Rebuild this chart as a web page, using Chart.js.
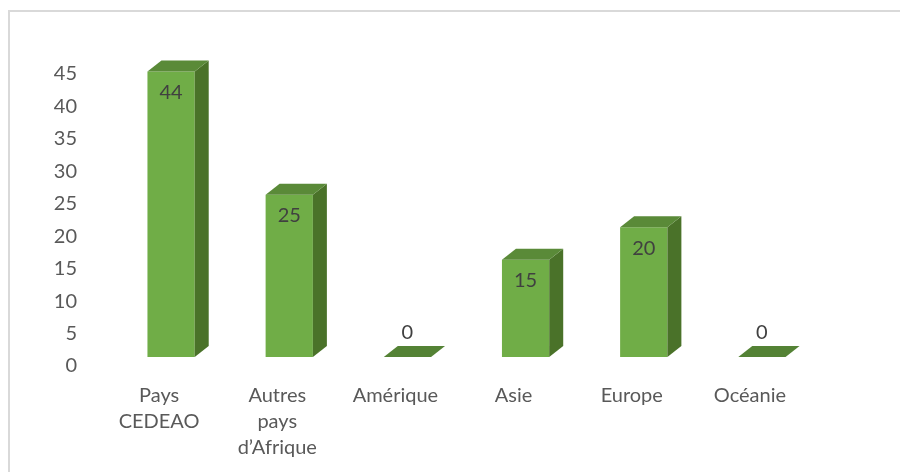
<!DOCTYPE html>
<html>
<head>
<meta charset="utf-8">
<script src="https://cdn.jsdelivr.net/npm/chart.js@4"></script>
<style>
  html, body { margin: 0; padding: 0; background: #fff; overflow: hidden; }
  .frame { position: absolute; left: 8px; top: 10px; width: 960px; height: 520px;
           border-left: 2px solid #d9d9d9; border-top: 2px solid #d9d9d9; }
  #chart { position: absolute; left: 0; top: 0; }
</style>
</head>
<body>
<div class="frame"></div>
<canvas id="chart" width="900" height="472"></canvas>
<script>
// categories and values
const categories = [['Pays', 'CEDEAO'], ['Autres', 'pays', 'd\u2019Afrique'], 'Am\u00e9rique', 'Asie', 'Europe', 'Oc\u00e9anie'];
const values = [44, 25, 0, 15, 20, 0];
const yTicks = [0, 5, 10, 15, 20, 25, 30, 35, 40, 45];

const FRONT = '#70ad47';
const SIDE  = '#4a7229';
const TOP   = '#5a8a38';
const DEPTH = { dx: 14, dy: -11 };   // 3d look
const SHIFT = 12;                    // bars sit a little right of the labels

const bars3d = {
  id: 'bars3d',
  beforeDatasetsDraw(chart) {
    chart.ctx.save();
    chart.ctx.translate(SHIFT, 0);
  },
  afterDatasetsDraw(chart) {
    const ctx = chart.ctx;
    const meta = chart.getDatasetMeta(0);
    meta.data.forEach((bar, i) => {
      const { x, y, base, width } = bar.getProps(['x', 'y', 'base', 'width'], true);
      const l = x - width / 2, r = x + width / 2;
      // side face
      if (base - y > 0.5) {
        ctx.fillStyle = SIDE;
        ctx.beginPath();
        ctx.moveTo(r, y); ctx.lineTo(r + DEPTH.dx, y + DEPTH.dy);
        ctx.lineTo(r + DEPTH.dx, base + DEPTH.dy); ctx.lineTo(r, base);
        ctx.closePath(); ctx.fill();
      }
      // top face
      ctx.fillStyle = base - y > 0.5 ? TOP : '#548235';
      ctx.beginPath();
      ctx.moveTo(l, y); ctx.lineTo(r, y);
      ctx.lineTo(r + DEPTH.dx, y + DEPTH.dy); ctx.lineTo(l + DEPTH.dx, y + DEPTH.dy);
      ctx.closePath(); ctx.fill();

      // value labels
      ctx.fillStyle = '#404040';
      ctx.font = '20px Lato';
      ctx.textAlign = 'center';
      ctx.textBaseline = 'middle';
      const v = values[i];
      const ly = base - y > 0.5 ? y + 21 : y - 24;
      ctx.fillText(String(v), x, ly);
    });
    ctx.restore();
  },
};

new Chart(document.getElementById('chart'), {
  type: 'bar',
  data: {
    labels: categories,
    datasets: [{
      data: values,
      yAxisID: 'y2',
      backgroundColor: FRONT,
      borderWidth: 0,
      categoryPercentage: 1,
      barPercentage: 0.4,
      clip: false,
    }],
  },
  options: {
    responsive: false,
    animation: false,
    events: [],
    layout: { padding: { top: 74, right: 91, left: 0, bottom: 0 } },
    plugins: { legend: { display: false }, tooltip: { enabled: false } },
    scales: {
      x: {
        grid: { display: false, drawTicks: false },
        border: { display: false },
        ticks: { color: '#595959', font: { family: 'Lato', size: 20, lineHeight: 1.3 }, padding: 17, maxRotation: 0, autoSkip: false },
        afterFit(s) { s.height = 106; },
      },
      y: {
        min: 0, max: 45,
        grid: { display: false, drawTicks: false },
        border: { display: false },
        afterBuildTicks(s) { s.ticks = yTicks.map((v) => ({ value: v })); },
        ticks: { color: '#595959', font: { family: 'Lato', size: 20 }, padding: 23 },
        afterFit(s) { s.width = 100; },
      },
      // bar scale: same slope as y, floor drawn a little above the 0 label
      y2: { display: false, min: -1.39, max: 43.61 },
    },
  },
  plugins: [bars3d],
});
</script>
</body>
</html>
